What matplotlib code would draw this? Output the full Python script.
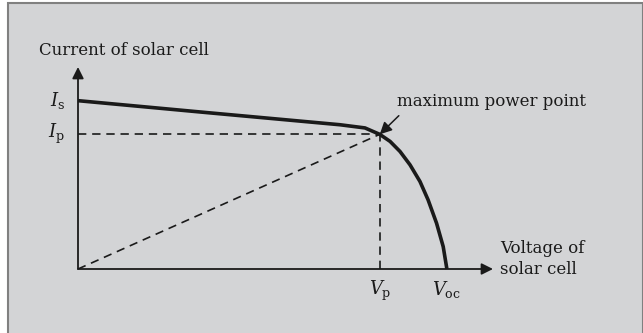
import matplotlib.pyplot as plt
from matplotlib.patches import Rectangle

plt.rcParams['font.family'] = ['DejaVu Serif']
plt.rcParams['mathtext.fontset'] = 'dejavuserif'

# I-V curve of a solar cell, normalised: Voc = 1, Is = 1
voltage = [0, 0.35, 0.71, 0.778, 0.80, 0.818, 0.846, 0.873, 0.90, 0.927, 0.949, 0.972, 0.99, 1.0]
current = [1.0, 0.929, 0.857, 0.838, 0.817, 0.80, 0.758, 0.698, 0.619, 0.52, 0.411, 0.272, 0.133, 0.0]

v_p = 0.818
i_p = 0.80
i_s = 1.0
v_oc = 1.0

bg = '#d3d4d6'
ink = '#1a1a1a'

fig = plt.figure(figsize=(6.43, 3.33), dpi=100)
fig.patches.append(Rectangle((8 / 643, -0.01), 1 - 8 / 643 - 0.5 / 643, 1 - 3 / 333 + 0.01,
                             transform=fig.transFigure, facecolor=bg,
                             edgecolor='#808080', linewidth=1.5, zorder=-5))

ax = fig.add_axes([78 / 643, 64 / 333, 415 / 643, 202 / 333])
ax.set_xlim(0, 1.125)
ax.set_ylim(0, 1.2)
ax.axis('off')

# axes arrows
arrow = dict(arrowstyle='-|>', color=ink, lw=1.3, mutation_scale=17, shrinkA=0, shrinkB=0)
ax.annotate('', xy=(1.125, 0), xytext=(0, 0), arrowprops=arrow, annotation_clip=False)
ax.annotate('', xy=(0, 1.2), xytext=(0, 0), arrowprops=arrow, annotation_clip=False)

# dashed guides
dash = dict(color=ink, lw=1.2, ls=(0, (5, 3.5)))
ax.plot([0, v_p], [i_p, i_p], **dash)
ax.plot([v_p, v_p], [0, i_p], **dash)
ax.plot([0, v_p], [0, i_p], **dash)

# curve
ax.plot(voltage, current, color=ink, lw=2.6, solid_joinstyle='round',
        solid_capstyle='butt', clip_on=False)

# labels
fs = 12
ax.text(-0.105, 1.30, 'Current of solar cell', fontsize=fs, ha='left', va='center', color=ink)
ax.text(-0.035, i_s, r'$I_{\rm s}$', fontsize=fs + 1, ha='right', va='center', color=ink)
ax.text(-0.035, i_p, r'$I_{\rm p}$', fontsize=fs + 1, ha='right', va='center', color=ink)
ax.text(v_p, -0.155, r'$V_{\rm p}$', fontsize=fs + 1, ha='center', va='baseline', color=ink)
ax.text(v_oc, -0.155, r'$V_{\rm oc}$', fontsize=fs + 1, ha='center', va='baseline', color=ink)
ax.text(1.145, 0.06, 'Voltage of\nsolar cell', fontsize=fs, ha='left', va='center',
        color=ink, linespacing=1.25)

ax.annotate('maximum power point', xy=(v_p, i_p), xytext=(0.865, 0.995),
            fontsize=fs, ha='left', va='center', color=ink,
            arrowprops=dict(arrowstyle='-|>', color=ink, lw=1.1, mutation_scale=18,
                            shrinkA=3, shrinkB=0, relpos=(0.04, 0.0)),
            annotation_clip=False)

plt.savefig('out.png', dpi=100, facecolor='white')
